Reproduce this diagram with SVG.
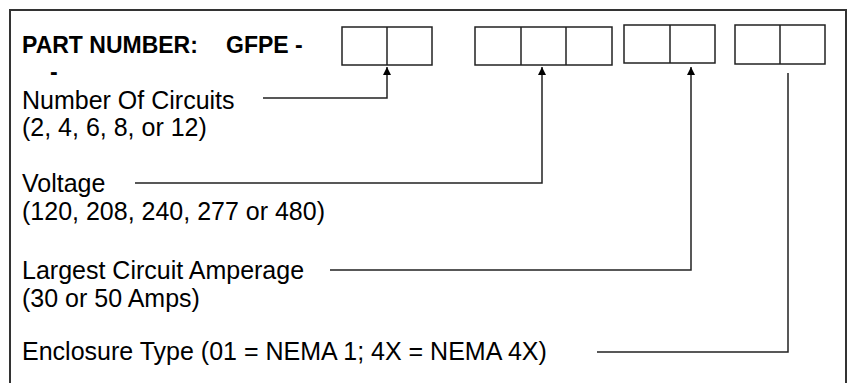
<svg xmlns="http://www.w3.org/2000/svg" width="849" height="383" viewBox="0 0 849 383">
<defs>
<style>
.t{font-family:"Liberation Sans",Arial,sans-serif;font-size:25px;fill:#000}
.b{font-weight:bold;font-size:23px}
.box{fill:#fff;stroke:#222;stroke-width:1.5}
.ln{fill:none;stroke:#222;stroke-width:1.5}
.frame{fill:#fff;stroke:#333;stroke-width:2}
</style>
<marker id="ah" viewBox="0 0 10 10" refX="10" refY="5" markerWidth="8" markerHeight="8" markerUnits="userSpaceOnUse" orient="auto">
<path d="M0,0 L10,5 L0,10 Z" fill="#000"/>
</marker>
</defs>
<rect width="849" height="383" fill="#fff"/>
<rect class="frame" x="10" y="10" width="836" height="400"/>
<g id="title">
<text class="t b" x="22" y="53">PART NUMBER:</text>
<text class="t b" x="226" y="53">GFPE -</text>
<text class="t b" x="50" y="80">-</text>
</g>
<g id="box-circuits">
<rect class="box" x="342" y="27" width="90" height="38"/>
<line class="box" x1="387" y1="27" x2="387" y2="65"/>
</g>
<g id="box-voltage">
<rect class="box" x="475" y="27" width="137" height="38"/>
<line class="box" x1="521" y1="27" x2="521" y2="65"/>
<line class="box" x1="566" y1="27" x2="566" y2="65"/>
</g>
<g id="box-amperage">
<rect class="box" x="624" y="25" width="91" height="38"/>
<line class="box" x1="670" y1="25" x2="670" y2="63"/>
</g>
<g id="box-enclosure">
<rect class="box" x="735" y="25" width="90" height="39"/>
<line class="box" x1="780" y1="25" x2="780" y2="64"/>
</g>
<g id="label-circuits">
<text class="t" x="22" y="109">Number Of Circuits</text>
<text class="t" x="22" y="136">(2, 4, 6, 8, or 12)</text>
</g>
<g id="label-voltage">
<text class="t" x="22" y="192">Voltage</text>
<text class="t" x="22" y="220">(120, 208, 240, 277 or 480)</text>
</g>
<g id="label-amperage">
<text class="t" x="22" y="279">Largest Circuit Amperage</text>
<text class="t" x="22" y="307">(30 or 50 Amps)</text>
</g>
<g id="label-enclosure">
<text class="t" x="22" y="360">Enclosure Type (01 = NEMA 1; 4X = NEMA 4X)</text>
</g>
<g id="connectors">
<polyline class="ln" points="263,98 387,98 387,67" marker-end="url(#ah)"/>
<polyline class="ln" points="135,183 542,183 542,67" marker-end="url(#ah)"/>
<polyline class="ln" points="330,270 691,270 691,67" marker-end="url(#ah)"/>
<polyline class="ln" points="597,352 788,352 788,73"/>
</g>
</svg>
